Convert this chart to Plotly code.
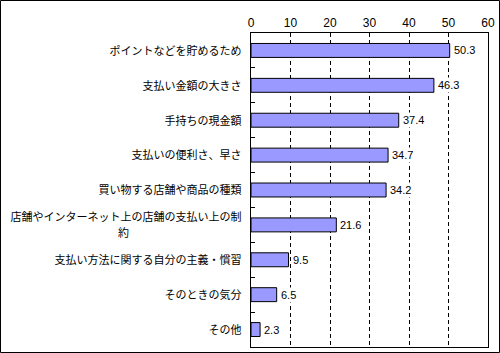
import plotly.graph_objects as go

categories = [
    "ポイントなどを貯めるため",
    "支払い金額の大きさ",
    "手持ちの現金額",
    "支払いの便利さ、早さ",
    "買い物する店舗や商品の種類",
    "店舗やインターネット上の店舗の支払い上の制約",
    "支払い方法に関する自分の主義・慣習",
    "そのときの気分",
    "その他",
]
tick_texts = [
    "ポイントなどを貯めるため",
    "支払い金額の大きさ",
    "手持ちの現金額",
    "支払いの便利さ、早さ",
    "買い物する店舗や商品の種類",
    "店舗やインターネット上の店舗の支払い上の制<br>約" + "\u3000" * 10 + "\u00a0",
    "支払い方法に関する自分の主義・慣習",
    "そのときの気分",
    "その他",
]
values = [50.3, 46.3, 37.4, 34.7, 34.2, 21.6, 9.5, 6.5, 2.3]
value_labels = [f"{v:.1f}" for v in values]
x_ticks = [0, 10, 20, 30, 40, 50, 60]

W, H = 500, 353
L, R, T, B = 251, 12, 33, 6
pw, ph = W - L - R, H - T - B

fig = go.Figure()
fig.add_trace(go.Bar(
    y=categories, x=values, orientation="h",
    marker=dict(color="#9999FF", line=dict(color="black", width=1)),
))

annotations = [
    dict(x=v, y=c, xref="x", yref="y", text=t, showarrow=False,
         xanchor="left", yanchor="middle", xshift=2,
         bgcolor="white", borderpad=1,
         font=dict(family="Liberation Sans, Arial", size=11, color="black"))
    for c, v, t in zip(categories, values, value_labels)
]

fig.update_layout(
    width=W, height=H,
    margin=dict(l=L, r=R, t=T, b=B),
    paper_bgcolor="white", plot_bgcolor="white",
    bargap=0.6,
    showlegend=False,
    font=dict(family="Noto Sans CJK JP", size=11, color="black"),
    xaxis=dict(
        side="top", range=[0, 60], tickvals=x_ticks,
        showgrid=True, gridcolor="black", griddash="4px,3px", gridwidth=1,
        showline=True, linecolor="black", linewidth=1, mirror=True,
        zeroline=False, ticks="", ticklen=0,
        tickfont=dict(family="Liberation Sans, Arial", size=12, color="black"),
    ),
    yaxis=dict(
        autorange="reversed", type="category",
        categoryorder="array", categoryarray=categories,
        tickmode="array", tickvals=categories,
        ticktext=[f'<span style="font-size:11px">{t}</span>' for t in tick_texts],
        showline=True, linecolor="black", linewidth=1, mirror=True,
        showgrid=False, ticks="inside", ticklen=4, tickcolor="black",
        tickson="boundaries", ticklabelstandoff=6,
        tickfont=dict(family="Noto Sans CJK JP", size=12.5, color="black"),
    ),
    annotations=annotations,
    shapes=[dict(
        type="rect", xref="paper", yref="paper",
        x0=-(L - 0.5) / pw, x1=1 + (R - 0.5) / pw,
        y0=-(B - 0.5) / ph, y1=1 + (T - 0.5) / ph,
        line=dict(color="black", width=1), fillcolor="rgba(0,0,0,0)",
        layer="above",
    )],
)

fig.write_html("out.html")
